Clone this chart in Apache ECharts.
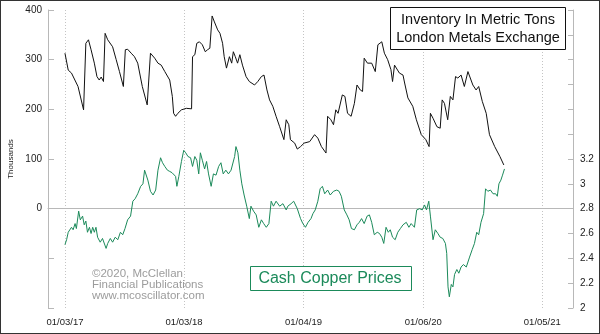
<!DOCTYPE html>
<html>
<head>
<meta charset="utf-8">
<script src="https://cdn.jsdelivr.net/npm/echarts@6/dist/echarts.min.js"></script>
<style>
html,body{margin:0;padding:0;background:#fff;}
#chart{width:600px;height:334px;}
</style>
</head>
<body>
<div id="chart"></div>
<script>
// Tick label dates on the x axis (first trading days)
const xTickDates = ['2017-01-03','2018-01-03','2019-01-04','2020-01-06','2021-01-05'];

// LME copper inventory, thousands of metric tons
const invDates = [
'2017-01-03','2017-01-13','2017-01-23','2017-02-12','2017-03-01','2017-03-08','2017-03-16','2017-03-24','2017-04-03','2017-04-11',
'2017-04-18','2017-04-24','2017-05-01','2017-05-06','2017-05-14','2017-05-19','2017-05-29','2017-06-09','2017-06-19','2017-07-01',
'2017-07-07','2017-07-14','2017-07-25','2017-08-04','2017-08-14','2017-08-28','2017-09-12','2017-09-22','2017-10-05','2017-10-15',
'2017-10-25','2017-11-05','2017-11-20','2017-11-28','2017-12-02','2017-12-08','2017-12-15','2017-12-26','2018-01-10','2018-01-26',
'2018-01-29','2018-02-05','2018-02-11','2018-02-19','2018-02-28','2018-03-09','2018-03-16','2018-03-23','2018-03-30','2018-04-06',
'2018-04-16','2018-04-23','2018-05-01','2018-05-06','2018-05-13','2018-05-22','2018-05-29','2018-06-03','2018-06-09','2018-06-16',
'2018-06-23','2018-07-01','2018-07-12','2018-07-22','2018-08-07','2018-08-17','2018-08-28','2018-09-05','2018-09-14','2018-09-22',
'2018-10-02','2018-10-12','2018-10-23','2018-11-05','2018-11-12','2018-11-20','2018-11-25','2018-12-08','2018-12-16','2018-12-26',
'2019-01-06','2019-01-23','2019-02-07','2019-02-17','2019-02-28','2019-03-14','2019-03-19','2019-03-29','2019-04-06','2019-04-13',
'2019-04-20','2019-04-26','2019-05-03','2019-05-11','2019-05-19','2019-05-30','2019-06-09','2019-06-17','2019-06-27','2019-07-04',
'2019-07-09','2019-07-19','2019-08-01','2019-08-12','2019-08-20','2019-09-01','2019-09-09','2019-09-19','2019-09-29','2019-10-04',
'2019-10-10','2019-10-25','2019-11-05','2019-11-10','2019-11-20','2019-12-05','2019-12-16','2019-12-31','2020-01-14','2020-01-24',
'2020-01-28','2020-02-05','2020-02-17','2020-02-27','2020-03-04','2020-03-11','2020-03-21','2020-03-29','2020-04-06','2020-04-14',
'2020-04-21','2020-05-01','2020-05-11','2020-05-22','2020-05-27','2020-06-06','2020-06-16','2020-06-24','2020-07-05','2020-07-17',
'2020-07-27','2020-08-12','2020-08-28','2020-09-09'
];
const invValues = [
313,279,273,246,199,333,340,320,293,266,
259,265,256,353,340,343,326,300,276,246,
320,321,313,306,293,246,209,313,303,293,
289,276,259,226,192,186,192,199,202,201,
306,310,333,336,330,316,320,323,388,376,
360,353,333,306,283,306,293,316,306,293,
310,289,266,256,249,256,266,269,239,219,
206,186,165,139,179,169,139,132,120,125,
132,135,149,142,125,112,186,179,169,199,
192,189,229,226,192,186,212,249,239,236,
303,293,293,276,330,336,313,300,280,256,
289,273,269,253,223,206,179,149,139,125,
192,182,165,162,219,212,179,226,219,266,
263,269,246,276,273,249,239,246,216,192,
149,125,105,88
];

// Cash copper price, $/lb
const cuDates = [
'2017-01-03','2017-01-08','2017-01-13','2017-01-18','2017-01-23','2017-01-28','2017-02-03','2017-02-07','2017-02-14','2017-02-19',
'2017-02-26','2017-03-03','2017-03-08','2017-03-13','2017-03-19','2017-03-24','2017-03-29','2017-04-03','2017-04-08','2017-04-13',
'2017-04-21','2017-04-28','2017-05-09','2017-05-14','2017-05-22','2017-05-29','2017-06-06','2017-06-14','2017-06-22','2017-06-29',
'2017-07-06','2017-07-14','2017-07-23','2017-07-30','2017-08-06','2017-08-14','2017-08-23','2017-08-30','2017-09-04','2017-09-09',
'2017-09-14','2017-09-22','2017-09-30','2017-10-08','2017-10-15','2017-10-23','2017-10-29','2017-11-05','2017-11-13','2017-11-20',
'2017-11-27','2017-12-03','2017-12-08','2017-12-12','2017-12-18','2017-12-26','2018-01-02','2018-01-08','2018-01-15','2018-01-23',
'2018-01-29','2018-02-05','2018-02-11','2018-02-17','2018-02-22','2018-02-28','2018-03-07','2018-03-13','2018-03-19','2018-03-27',
'2018-04-03','2018-04-11','2018-04-19','2018-04-26','2018-05-03','2018-05-11','2018-05-19','2018-05-27','2018-06-01','2018-06-07',
'2018-06-11','2018-06-17','2018-06-23','2018-06-29','2018-07-06','2018-07-14','2018-07-22','2018-07-27','2018-08-04','2018-08-12',
'2018-08-20','2018-08-28','2018-09-04','2018-09-12','2018-09-20','2018-09-27','2018-10-04','2018-10-12','2018-10-23','2018-11-02',
'2018-11-12','2018-11-17','2018-11-27','2018-12-05','2018-12-16','2018-12-26','2019-01-02','2019-01-10','2019-01-18','2019-01-27',
'2019-02-02','2019-02-09','2019-02-17','2019-02-24','2019-03-03','2019-03-10','2019-03-19','2019-03-27','2019-04-06','2019-04-16',
'2019-04-23','2019-04-30','2019-05-09','2019-05-17','2019-05-24','2019-05-31','2019-06-09','2019-06-17','2019-06-24','2019-07-01',
'2019-07-09','2019-07-18','2019-07-25','2019-08-01','2019-08-09','2019-08-18','2019-08-25','2019-09-01','2019-09-07','2019-09-14',
'2019-09-21','2019-09-27','2019-10-04','2019-10-12','2019-10-20','2019-10-28','2019-11-05','2019-11-15','2019-11-23','2019-11-30',
'2019-12-10','2019-12-17','2019-12-26','2020-01-03','2020-01-10','2020-01-16','2020-01-23','2020-01-28','2020-02-05','2020-02-12',
'2020-02-20','2020-02-27','2020-03-06','2020-03-14','2020-03-18','2020-03-22','2020-03-26','2020-04-01','2020-04-06','2020-04-11',
'2020-04-18','2020-04-24','2020-05-01','2020-05-08','2020-05-17','2020-05-27','2020-06-04','2020-06-11','2020-06-18','2020-06-24',
'2020-07-01','2020-07-09','2020-07-15','2020-07-22','2020-07-30','2020-08-07','2020-08-15','2020-08-20','2020-08-25','2020-08-31',
'2020-09-05','2020-09-11'
];
const cuValues = [
2.51,2.55,2.61,2.60,2.65,2.63,2.68,2.64,2.78,2.71,
2.74,2.67,2.70,2.61,2.65,2.60,2.65,2.61,2.65,2.57,
2.53,2.56,2.48,2.52,2.56,2.53,2.57,2.55,2.61,2.59,
2.64,2.71,2.74,2.86,2.88,2.92,2.98,3.00,3.11,3.12,
3.03,2.94,2.91,2.95,3.11,3.21,3.17,3.14,3.11,3.10,
3.09,3.10,3.06,2.98,3.06,3.18,3.27,3.25,3.22,3.21,
3.14,3.22,3.19,3.08,3.25,3.19,3.12,3.18,3.08,2.98,
3.08,3.07,3.14,3.17,3.08,3.11,3.08,3.11,3.12,3.22,
3.30,3.25,3.11,3.00,2.91,2.82,2.72,2.82,2.78,2.75,
2.65,2.71,2.68,2.65,2.68,2.86,2.82,2.86,2.82,2.84,
2.79,2.82,2.84,2.86,2.80,2.72,2.68,2.65,2.69,2.72,
2.76,2.79,2.86,2.96,2.98,2.92,2.95,2.91,2.94,2.95,
2.94,2.90,2.79,2.75,2.71,2.64,2.63,2.67,2.69,2.72,
2.68,2.74,2.75,2.69,2.59,2.61,2.60,2.57,2.52,2.65,
2.61,2.63,2.57,2.55,2.61,2.64,2.67,2.69,2.65,2.68,
2.65,2.79,2.80,2.79,2.83,2.79,2.86,2.74,2.55,2.63,
2.60,2.57,2.56,2.52,2.44,2.17,2.09,2.19,2.17,2.27,
2.31,2.28,2.33,2.35,2.33,2.41,2.47,2.52,2.61,2.59,
2.69,2.76,2.96,2.94,2.95,2.92,2.92,2.90,3.00,3.03,
3.07,3.12
];

function ts(s){ const p = s.split('-').map(Number); return new Date(p[0], p[1]-1, p[2]).getTime(); }
function pad(n){ return (n < 10 ? '0' : '') + n; }

const FONT = "'Liberation Sans', Arial, sans-serif";
const GREEN = '#1b8a5a';
const AXIS_GRAY = '#b8b8b8';

const chart = echarts.init(document.getElementById('chart'), null, {renderer: 'canvas'});
const tickTs = xTickDates.map(ts);

chart.setOption({
  animation: false,
  backgroundColor: '#fff',
  textStyle: {fontFamily: FONT},
  grid: {left: 48, right: 27, top: 10, bottom: 26, containLabel: false, outerBoundsMode: 'none'},
  xAxis: {
    type: 'value',
    min: ts('2016-11-12'),
    max: ts('2021-04-09'),
    axisLine: {show: true, lineStyle: {color: AXIS_GRAY, width: 1}},
    axisTick: {show: false, customValues: tickTs},
    axisLabel: {
      customValues: tickTs,
      color: '#222', fontSize: 9.5, fontFamily: FONT, margin: 9,
      formatter: function (v) {
        const d = new Date(v);
        return pad(d.getMonth() + 1) + '/' + pad(d.getDate()) + '/' + String(d.getFullYear()).slice(2);
      }
    },
    splitLine: {show: true, lineStyle: {color: '#c4c4c4', type: [1, 2], width: 1}}
  },
  yAxis: [
    {
      type: 'value', min: -200, max: 400, interval: 100, position: 'left',
      name: 'Thousands', nameLocation: 'middle', nameGap: 33, nameRotate: 90,
      nameTextStyle: {fontSize: 8, color: '#222', fontFamily: FONT},
      axisLine: {show: true, lineStyle: {color: AXIS_GRAY}},
      axisTick: {show: true, inside: true, length: 6, lineStyle: {color: AXIS_GRAY}},
      axisLabel: {color: '#222', fontSize: 10, fontFamily: FONT, margin: 6,
        formatter: function (v) { return v >= 0 ? String(v) : ''; }},
      splitLine: {show: false}
    },
    {
      type: 'value', min: 2, max: 4.4, interval: 0.2, position: 'right',
      axisLine: {show: true, lineStyle: {color: AXIS_GRAY}},
      axisTick: {show: true, inside: true, length: 5, lineStyle: {color: AXIS_GRAY}},
      axisLabel: {color: '#222', fontSize: 10, fontFamily: FONT, margin: 7,
        formatter: function (v) { return v <= 3.2001 ? String(Math.round(v * 10) / 10) : ''; }},
      splitLine: {show: false}
    }
  ],
  series: [
    {
      name: 'Inventory', type: 'line', yAxisIndex: 0, showSymbol: false, symbol: 'none',
      lineStyle: {color: '#111', width: 1}, itemStyle: {color: '#111'},
      data: invDates.map(function (d, i) { return [ts(d), invValues[i]]; }),
      z: 3
    },
    {
      name: 'Copper', type: 'line', yAxisIndex: 1, showSymbol: false, symbol: 'none',
      lineStyle: {color: GREEN, width: 1}, itemStyle: {color: GREEN},
      data: cuDates.map(function (d, i) { return [ts(d), cuValues[i]]; }),
      z: 3
    }
  ],
  graphic: [
    {type: 'rect', silent: true, z: 100,
      shape: {x: 0, y: 0, width: 600, height: 334},
      style: {fill: 'none', stroke: '#333', lineWidth: 2}},
    {type: 'rect', silent: true, z: 50,
      shape: {x: 390.5, y: 7.5, width: 175, height: 42},
      style: {fill: '#fff', stroke: '#111', lineWidth: 1}},
    {type: 'text', silent: true, z: 51, x: 478, y: 29,
      style: {text: 'Inventory In Metric Tons\nLondon Metals Exchange', fill: '#111',
        font: '14.5px ' + FONT, lineHeight: 18.5, align: 'center', verticalAlign: 'middle'}},
    {type: 'rect', silent: true, z: 50,
      shape: {x: 250.5, y: 266.5, width: 161, height: 24},
      style: {fill: '#fff', stroke: GREEN, lineWidth: 1}},
    {type: 'text', silent: true, z: 51, x: 330, y: 279,
      style: {text: 'Cash Copper Prices', fill: GREEN,
        font: '16px ' + FONT, align: 'center', verticalAlign: 'middle'}},
    {type: 'text', silent: true, z: 1, x: 92, y: 268,
      style: {text: '\u00a92020, McClellan\nFinancial Publications\nwww.mcoscillator.com', fill: '#9c9c9c',
        font: '11.5px ' + FONT, lineHeight: 11, align: 'left', verticalAlign: 'top'}}
  ]
});
</script>
</body>
</html>
